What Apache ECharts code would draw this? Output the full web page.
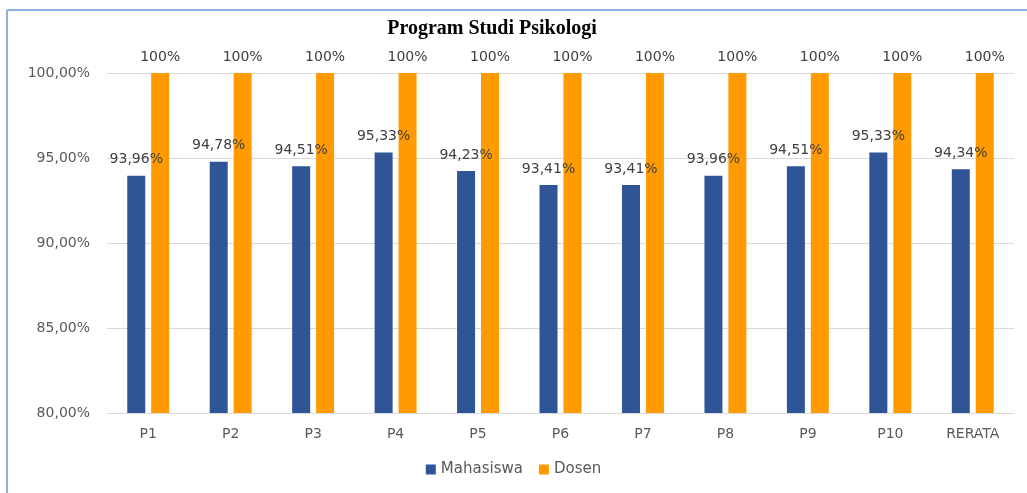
<!DOCTYPE html>
<html>
<head>
<meta charset="utf-8">
<script src="https://cdn.jsdelivr.net/npm/echarts@6/dist/echarts.min.js"></script>
<style>
    html, body { margin: 0; padding: 0; background: #fff; }
    #chart { width: 1027px; height: 493px; }
</style>
</head>
<body>
<div id="chart"></div>
<script>
// 数据
var categories = ['P1', 'P2', 'P3', 'P4', 'P5', 'P6', 'P7', 'P8', 'P9', 'P10', 'RERATA'];
var mahasiswa = [93.96, 94.78, 94.51, 95.33, 94.23, 93.41, 93.41, 93.96, 94.51, 95.33, 94.34];
var dosen = [100, 100, 100, 100, 100, 100, 100, 100, 100, 100, 100];
var yTicks = [80, 85, 90, 95, 100];

(function() {
    var myChart = echarts.init(document.querySelector('#chart'));

    function fmtComma(v, digits) {
        return v.toFixed(digits).replace('.', ',') + '%';
    }

    var option = {
        animation: false,
        title: {
            text: 'Program Studi Psikologi',
            left: 487,
            top: 14,
            textAlign: 'center',
            textStyle: {
                fontFamily: 'Liberation Serif',
                fontWeight: 'bold',
                fontSize: 20,
                color: '#000'
            }
        },
        legend: {
            bottom: 11,
            left: 'center',
            itemWidth: 10,
            itemHeight: 10,
            itemGap: 16,
            icon: 'rect',
            textStyle: { fontFamily: 'DejaVu Sans', fontSize: 15, color: '#595959' },
            data: ['Mahasiswa', 'Dosen']
        },
        grid: {
            left: 107,
            right: 13,
            top: 73,
            bottom: 80,
            containLabel: false
        },
        xAxis: {
            type: 'category',
            data: categories,
            axisTick: { show: false },
            axisLine: { lineStyle: { color: '#d9d9d9' } },
            axisLabel: {
                margin: 14,
                fontFamily: 'DejaVu Sans',
                fontSize: 14,
                color: '#595959'
            }
        },
        yAxis: {
            type: 'value',
            min: yTicks[0],
            max: yTicks[yTicks.length - 1],
            interval: 5,
            axisLine: { show: false },
            axisTick: { show: false },
            splitLine: { lineStyle: { color: '#d9d9d9' } },
            axisLabel: {
                margin: 17,
                fontFamily: 'DejaVu Sans',
                fontSize: 14,
                color: '#595959',
                formatter: function(v) { return fmtComma(v, 2); }
            }
        },
        series: [{
            name: 'Mahasiswa',
            type: 'bar',
            data: mahasiswa,
            barWidth: 18,
            barGap: '33%',
            itemStyle: { color: '#2f5597' },
            label: {
                show: true,
                position: 'top',
                distance: 9,
                fontFamily: 'DejaVu Sans',
                fontSize: 14,
                color: '#404040',
                formatter: function(p) { return fmtComma(p.value, 2); }
            }
        }, {
            name: 'Dosen',
            type: 'bar',
            data: dosen,
            barWidth: 18,
            itemStyle: { color: '#ff9a00' },
            label: {
                show: true,
                position: 'top',
                distance: 9,
                fontFamily: 'DejaVu Sans',
                fontSize: 14,
                color: '#404040',
                formatter: function(p) { return p.value + '%'; }
            }
        }],
        // 外框（左侧与顶部的蓝线）
        graphic: [{
            type: 'line',
            shape: { x1: 7, y1: 10, x2: 7, y2: 493 },
            style: { stroke: '#8db3e2', lineWidth: 2 }
        }, {
            type: 'line',
            shape: { x1: 7, y1: 10, x2: 1027, y2: 10 },
            style: { stroke: '#8db3e2', lineWidth: 2 }
        }]
    };

    myChart.setOption(option);
    window.addEventListener('resize', function() {
        myChart.resize();
    });
})();
</script>
</body>
</html>
